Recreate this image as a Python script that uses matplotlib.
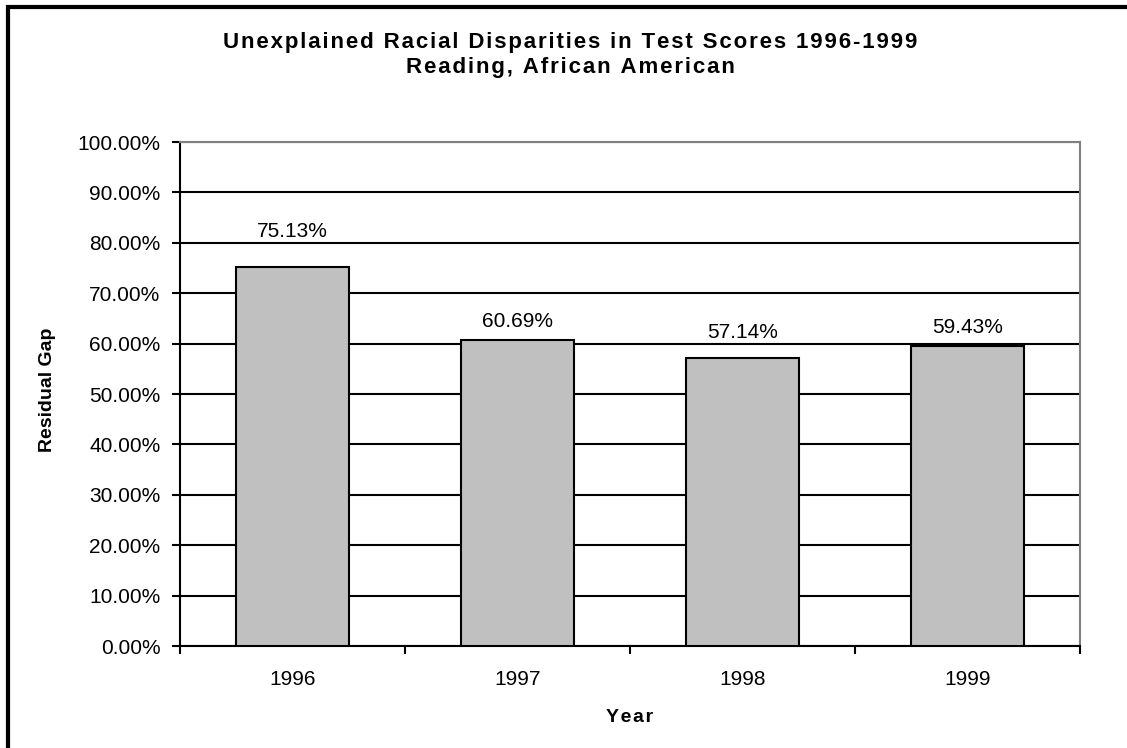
import matplotlib.pyplot as plt
import matplotlib.ticker as ticker
from matplotlib.patches import Rectangle

plt.rcParams['font.family'] = ['Liberation Sans', 'DejaVu Sans']

# residual gap per year, in percent
years = ['1996', '1997', '1998', '1999']
gap = [75.13, 60.69, 57.14, 59.43]
y_ticks = [0, 10, 20, 30, 40, 50, 60, 70, 80, 90, 100]

W, H = 1127, 748


def spaced(s, sp='\u200a'):
    """widen text by putting hair spaces between the letters"""
    return sp.join(s)


def label_base(v, lift=2.6, below=0.5, above=3.0, clear=1.2):
    """baseline for a value label, pushed up past a gridline it would sit on"""
    base = v + lift
    for g in y_ticks:
        if base - below <= g <= base + above:
            base = g + clear
    return base


fig = plt.figure(figsize=(W / 100, H / 100), dpi=100)
ax = fig.add_axes([180 / W, 1 - 646 / H, 900 / W, 504 / H])

x = list(range(len(years)))
ax.bar(x, gap, width=0.5, color='#c0c0c0', edgecolor='black', linewidth=1.5, zorder=3)
for xi, v in zip(x, gap):
    ax.text(xi, label_base(v), f'{v:.2f}%', ha='center', va='baseline', fontsize=15)

ax.set_xlim(-0.5, len(years) - 0.5)
ax.set_ylim(0, 100)
ax.set_yticks(y_ticks)
ax.yaxis.set_major_formatter(ticker.FuncFormatter(lambda v, p: f'{v:.2f}%'))
ax.yaxis.grid(True, color='black', linewidth=1.5)
ax.set_axisbelow(True)

# ticks at the category boundaries, labels in the middle
ax.set_xticks([i - 0.5 for i in range(len(years) + 1)])
ax.set_xticklabels([])
ax.set_xticks(x, minor=True)
ax.set_xticklabels(years, minor=True)
ax.tick_params(axis='x', which='minor', length=0, pad=17, labelsize=15)
ax.tick_params(axis='x', which='major', length=6, width=1.5, direction='out')
ax.tick_params(axis='y', length=6, width=1.5, direction='out', pad=8, labelsize=15)

for side in ['top', 'right']:
    ax.spines[side].set_color('#808080')
    ax.spines[side].set_linewidth(1.5)
for side in ['left', 'bottom']:
    ax.spines[side].set_color('black')
    ax.spines[side].set_linewidth(1.5)

fig.text(47 / W, 1 - 390 / H, 'Residual Gap', rotation=90, ha='center', va='center',
         fontsize=14, fontweight='bold')
fig.text(630 / W, 1 - 717 / H, spaced('Year'), ha='center', va='center',
         fontsize=14, fontweight='bold')

fig.text(570 / W, 1 - 48 / H, spaced('Unexplained Racial Disparities in Test Scores 1996-1999'),
         ha='center', va='baseline', fontsize=16, fontweight='bold')
fig.text(570 / W, 1 - 73 / H, spaced('Reading, African American'),
         ha='center', va='baseline', fontsize=16, fontweight='bold')

# outer frame, runs off the right and bottom edges
fig.patches.append(Rectangle((8 / W, -0.05), 1.2, 1 - 6.5 / H + 0.05,
                             transform=fig.transFigure, fill=False,
                             edgecolor='black', linewidth=3))

fig.savefig('out.png', dpi=100)
